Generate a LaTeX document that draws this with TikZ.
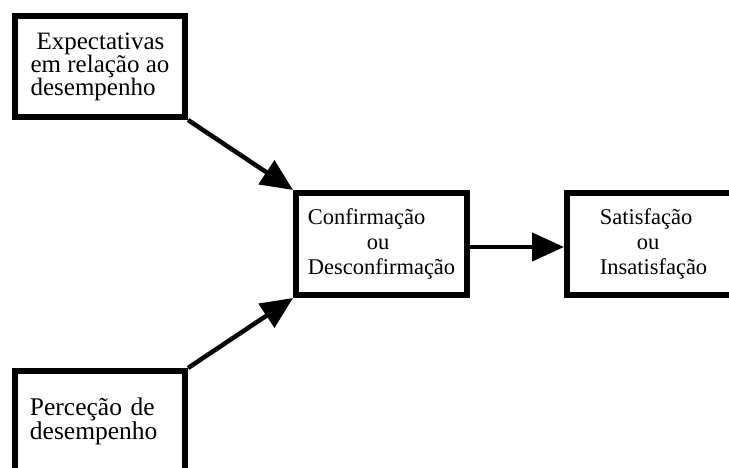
\documentclass[tikz,border=0pt]{standalone}
\usepackage{fontspec}
\setmainfont{Liberation Serif}
\usetikzlibrary{arrows.meta}
\newcommand\boxfontbig{\fontsize{25}{23}\selectfont\lineskiplimit=-30pt\relax}
\newcommand\boxfontlow{\fontsize{25.5}{24}\selectfont\lineskiplimit=-30pt\relax}
\newcommand\boxfontsmall{\fontsize{22.5}{25}\selectfont\lineskiplimit=-30pt\relax}
\begin{document}
\begin{tikzpicture}[x=1pt,y=-1pt,
  box/.style={draw, line width=6pt, rectangle, align=left, inner sep=0pt},
  link/.style={line width=4.5pt, -{Triangle[length=32pt,width=28pt]}}]
\useasboundingbox (0,0) rectangle (729,468);
\clip (0,0) rectangle (729,468);

% boxes
\node[box, font=\boxfontbig, minimum width=170pt, minimum height=101pt] (expect) at (100,66.5)
  {\hspace*{6pt}Expectativas\\em relação ao\\desempenho};
\node[box, font=\boxfontsmall, minimum width=171pt, minimum height=102pt] (conf) at (381.5,244)
  {Confirmação\\\hspace*{59pt}ou\\Desconfirmação};
\node[box, font=\boxfontsmall, minimum width=173pt, minimum height=102pt] (satis) at (653.5,244)
  {Satisfação\\\hspace*{37pt}ou\\Insatisfação};
\node[box, font=\boxfontlow, text width=140pt,
  minimum width=170pt, minimum height=101pt] (percep) at (100,421.5)
  {Perceção de\\desempenho};

% connectors
\draw[link] (expect.south east) -- (conf.north west);
\draw[link] (percep.north east) -- (conf.south west);
\draw[link] ([yshift=-3pt]conf.east) -- ([yshift=-3pt]satis.west);
\end{tikzpicture}
\end{document}
